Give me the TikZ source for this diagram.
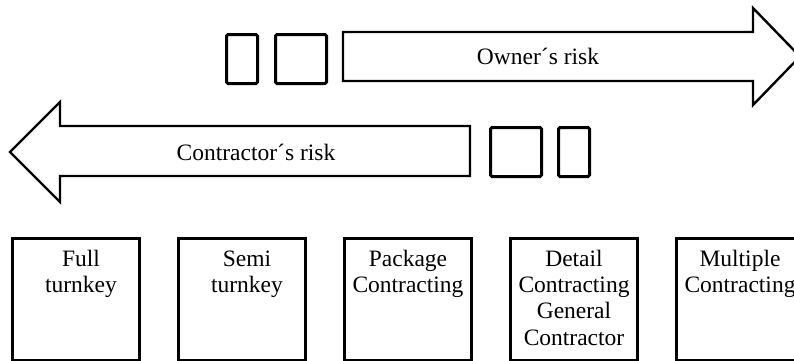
\documentclass[tikz,border=0pt]{standalone}
\usepackage{fontspec}
\setmainfont{Liberation Serif}
\begin{document}
\begin{tikzpicture}[x=1pt,y=-1pt,
  bigarrow/.style={draw=black,line width=2.4pt,line join=miter,fill=white},
  tick/.style={draw=black,line width=3pt,rounded corners=1.5pt,inner sep=0pt,anchor=north west},
  method/.style={draw=black,line width=3pt,inner sep=0pt,anchor=north west,
    minimum width=127pt,minimum height=122pt},
  label/.style={font={\fontsize{23.5}{26.3}\selectfont},inner sep=0pt},
  methodtext/.style={label,align=center,anchor=north}]
\useasboundingbox (0,0) rectangle (794,360);
\clip (0,0) rectangle (794,360);

% owner's risk: two tick boxes and an arrow pointing right
\node[tick,minimum width=31pt,minimum height=49pt] (o1) at (225,33) {};
\node[tick,minimum width=51pt,minimum height=49pt] (o2) at (274,33) {};
\draw[bigarrow] (343,32) -- (753,32) -- (753,8) -- (800,56.5) -- (753,105) -- (753,81) -- (343,81) -- cycle;
\node[label,anchor=base] (owner) at (538,64) {Owner´s risk};

% contractor's risk: arrow pointing left and two tick boxes
\draw[bigarrow] (470,126) -- (60,126) -- (60,102) -- (10,152) -- (60,202) -- (60,176) -- (470,176) -- cycle;
\node[label,anchor=base] (contractor) at (256,160) {Contractor´s risk};
\node[tick,minimum width=51pt,minimum height=49pt] (c1) at (489,126) {};
\node[tick,minimum width=31pt,minimum height=49pt] (c2) at (557,126) {};

% contracting methods
\node[method] (m1) at (11,237) {};
\node[method] (m2) at (177,237) {};
\node[method] (m3) at (343,237) {};
\node[method] (m4) at (509,237) {};
\node[method] (m5) at (675,237) {};

\node[methodtext] (t1) at ([xshift=5pt,yshift=-10.6pt]m1.north) {\strut Full\\turnkey};
\node[methodtext] (t2) at ([xshift=5pt,yshift=-10.6pt]m2.north) {\strut Semi\\turnkey};
\node[methodtext] (t3) at ([yshift=-10.6pt]m3.north) {\strut Package\\Contracting};
\node[methodtext] (t4) at ([yshift=-10.6pt]m4.north) {\strut Detail\\Contracting\\General\\Contractor};
\node[methodtext] (t5) at ([yshift=-10.6pt]m5.north) {\strut Multiple\\Contracting};
\end{tikzpicture}
\end{document}
